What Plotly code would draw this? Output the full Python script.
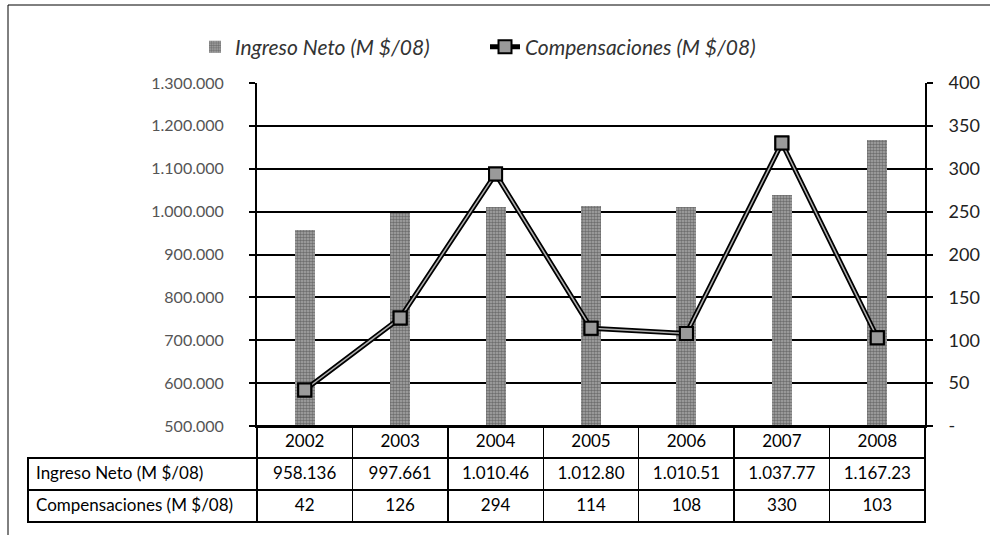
import plotly.graph_objects as go

years = ["2002", "2003", "2004", "2005", "2006", "2007", "2008"]
ingreso = [958136, 997661, 1010460, 1012800, 1010510, 1037770, 1167230]
ingreso_txt = ["958.136", "997.661", "1.010.46", "1.012.80", "1.010.51", "1.037.77", "1.167.23"]
compens = [42, 126, 294, 114, 108, 330, 103]
left_ticks = list(range(500000, 1300001, 100000))
left_labels = [f"{v:,}".replace(",", ".") for v in left_ticks]
right_ticks = list(range(0, 401, 50))
right_labels = ["-"] + [str(v) for v in right_ticks[1:]]
name_ing = "Ingreso Neto (M $/08)"
name_comp = "Compensaciones (M $/08)"

W, H = 990, 535
ML, MR, MT, MB = 28, 65, 83, 0
PW = W - ML - MR
PH = H - MT - MB
plot_left = 257
plot_bottom = 426
row_h = 32
xdom0 = (plot_left - ML) / PW
ydom0 = (H - MB - plot_bottom) / PH
table_bottom = (H - MB - (plot_bottom + 3 * row_h)) / PH

FONT = "Lato, 'Liberation Sans', sans-serif"
N = len(years)
CLEAR = "rgba(0,0,0,0)"

fig = go.Figure()

fig.add_trace(go.Bar(
    x=years, y=ingreso, name=name_ing, width=0.21,
    marker=dict(color="#9a9a9a", line=dict(width=0),
                pattern=dict(shape=".", fgcolor="#333333", bgcolor="#a8a8a8",
                             size=3, solidity=0.55)),
    xaxis="x", yaxis="y",
))
fig.add_trace(go.Scatter(
    x=years, y=compens, name=name_comp, mode="lines+markers",
    line=dict(color="black", width=5),
    marker=dict(symbol="square", size=13, color="#9a9a9a", line=dict(color="black", width=2)),
    xaxis="x", yaxis="y2",
))
fig.add_trace(go.Scatter(
    x=years, y=compens, mode="lines", showlegend=False,
    line=dict(color="#b0b0b0", width=1.5), hoverinfo="skip",
    xaxis="x", yaxis="y2",
))
fig.add_trace(go.Scatter(
    x=years, y=compens, mode="markers", showlegend=False,
    marker=dict(symbol="square", size=13, color="#9a9a9a", line=dict(color="black", width=2)),
    xaxis="x", yaxis="y2", hoverinfo="skip",
))

label_w = plot_left - ML
cat_w = (W - MR - plot_left) / N
fig.add_trace(go.Table(
    domain=dict(x=[0, 1], y=[0, ydom0]),
    columnwidth=[label_w] + [cat_w] * N,
    header=dict(
        values=[""] + years, height=row_h,
        line=dict(color=[CLEAR] + ["black"] * N, width=1.5),
        fill=dict(color=CLEAR),
        align="center",
        font=dict(family=FONT, size=[17] + [17] * N, color="black"),
    ),
    cells=dict(
        values=[[name_ing, name_comp]] + [[ingreso_txt[i], str(compens[i])] for i in range(N)],
        height=row_h,
        line=dict(color="black", width=1.5),
        fill=dict(color=CLEAR),
        align=["left"] + ["center"] * N,
        font=dict(family=FONT, size=[17] + [17] * N, color="black"),
    ),
))

fig.update_layout(
    width=W, height=H,
    margin=dict(l=ML, r=MR, t=MT, b=MB, autoexpand=False),
    paper_bgcolor="white", plot_bgcolor="white",
    font=dict(family=FONT, size=14, color="#333333"),
    showlegend=True,
    bargap=0,
    xaxis=dict(domain=[xdom0, 1], type="category", range=[-0.5, 6.5],
               showticklabels=False, showgrid=False, ticks="",
               showline=True, linecolor="black", linewidth=2, zeroline=False,
               automargin=False),
    yaxis=dict(range=[500000, 1300000], tickvals=left_ticks, ticktext=left_labels,
               showgrid=True, gridcolor="black", gridwidth=2,
               showline=True, linecolor="black", linewidth=2,
               ticks="outside", ticklen=6, tickwidth=2, tickcolor="black",
               ticklabelstandoff=22, zeroline=False, automargin=False,
               domain=[ydom0, 1], tickfont=dict(size=16, color="#555555")),
    yaxis2=dict(range=[0, 400], tickvals=right_ticks, ticktext=right_labels,
                overlaying="y", side="right", showgrid=False,
                showline=True, linecolor="black", linewidth=2,
                ticks="outside", ticklen=6, tickwidth=2, tickcolor="black",
                ticklabelstandoff=12, zeroline=False, automargin=False,
                tickfont=dict(size=18, color="#222222")),
    legend=dict(orientation="h", x=(195 - ML) / PW, xanchor="left",
                y=(H - MB - 47) / PH, yanchor="middle",
                entrywidth=245, entrywidthmode="pixels",
                font=dict(size=21, color="#333333", style="italic"),
                bgcolor="rgba(0,0,0,0)"),
    shapes=[
        dict(type="rect", xref="paper", yref="paper",
             x0=(8 - ML) / PW, x1=(1000 - ML) / PW,
             y0=-0.1, y1=(H - MB - 5) / PH,
             line=dict(color="black", width=1), fillcolor="rgba(0,0,0,0)", layer="below"),
        dict(type="line", xref="paper", yref="paper",
             x0=0, x1=1, y0=table_bottom, y1=table_bottom,
             line=dict(color="black", width=1.5), layer="above"),
    ],
)

fig.write_html("out.html", config={"displayModeBar": False},
               post_script="document.body.style.margin='0';")
